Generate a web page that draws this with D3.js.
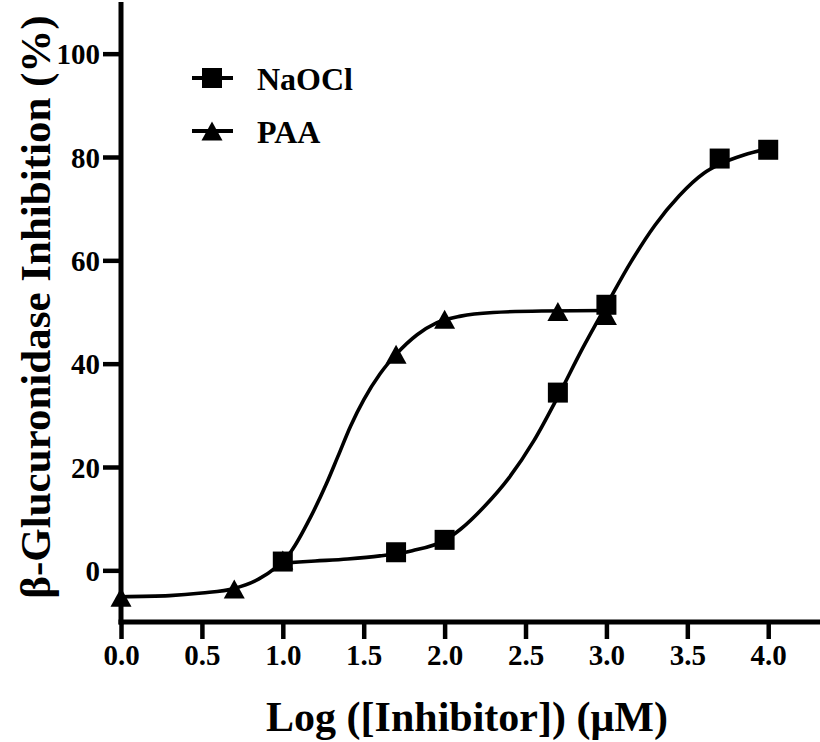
<!DOCTYPE html>
<html>
<head>
<meta charset="utf-8">
<script src="https://cdn.jsdelivr.net/npm/d3@7"></script>
<style>
  html, body { margin: 0; padding: 0; background: #fff; }
  svg { display: block; }
  text { font-family: "Liberation Serif", "Times New Roman", serif; font-weight: bold; fill: #000; }
</style>
</head>
<body>
<svg id="chart" width="820" height="742"></svg>
<script>
// ---- data ----
const xTicks = [0, 0.5, 1.0, 1.5, 2.0, 2.5, 3.0, 3.5, 4.0];
const xTickLabels = ["0.0", "0.5", "1.0", "1.5", "2.0", "2.5", "3.0", "3.5", "4.0"];
const yTicks = [0, 20, 40, 60, 80, 100];
const yTickLabels = ["0", "20", "40", "60", "80", "100"];

const seriesNames = ["NaOCl", "PAA"];

const naoclX = [1.0, 1.7, 2.0, 2.7, 3.0, 3.7, 4.0];
const naoclY = [1.7, 3.5, 5.9, 34.4, 51.4, 79.7, 81.4];

const paaX = [0.0, 0.7, 1.0, 1.7, 2.0, 2.7, 3.0];
const paaY = [-5.2, -3.6, 2.0, 41.8, 48.6, 50.1, 49.3];

// fitted curves
const naoclFitX = [1.0, 1.2, 1.4, 1.6, 1.8, 2.0, 2.1, 2.25, 2.4, 2.55, 2.7, 2.85, 3.0, 3.15, 3.3, 3.45, 3.6, 3.7, 3.85, 4.0];
const naoclFitY = [1.4, 1.8, 2.2, 2.8, 3.8, 5.8, 8.0, 12.5, 18.0, 25.0, 33.6, 42.8, 51.3, 59.6, 66.8, 72.5, 76.8, 78.6, 80.4, 81.6];

const paaFitX = [0.0, 0.3, 0.5, 0.7, 0.85, 0.95, 1.05, 1.17, 1.27, 1.34, 1.42, 1.5, 1.6, 1.7, 1.83, 1.95, 2.1, 2.3, 2.6, 3.0];
const paaFitY = [-5.1, -4.9, -4.4, -3.5, -1.7, 0.4, 3.6, 10.2, 16.8, 22.0, 28.0, 33.0, 38.0, 41.8, 45.6, 47.9, 49.2, 49.9, 50.2, 50.3];

// ---- drawing ----
const svg = d3.select("#chart");
const x = d3.scaleLinear().domain([0, 4.32]).range([121, 820]);
const y = d3.scaleLinear().domain([-10, 110]).range([622, 2]);

const ink = "#000";

// curves
const line = d3.line().x(d => x(d[0])).y(d => y(d[1])).curve(d3.curveMonotoneX);
const naoclFit = naoclFitX.map((v, i) => [v, naoclFitY[i]]);
const paaFit = paaFitX.map((v, i) => [v, paaFitY[i]]);

svg.append("path").attr("d", line(paaFit)).attr("fill", "none").attr("stroke", ink).attr("stroke-width", 3.6);
svg.append("path").attr("d", line(naoclFit)).attr("fill", "none").attr("stroke", ink).attr("stroke-width", 3.6);

// markers
const sq = 20;
function triPath(cx, cy) {
  const w = 21, h = 19;
  return `M${cx},${cy - h / 2}L${cx + w / 2},${cy + h / 2}L${cx - w / 2},${cy + h / 2}Z`;
}
svg.append("g").selectAll("path")
  .data(paaX.map((v, i) => [v, paaY[i]]))
  .join("path")
  .attr("d", d => triPath(x(d[0]), y(d[1])))
  .attr("fill", ink);

svg.append("g").selectAll("rect")
  .data(naoclX.map((v, i) => [v, naoclY[i]]))
  .join("rect")
  .attr("x", d => x(d[0]) - sq / 2)
  .attr("y", d => y(d[1]) - sq / 2)
  .attr("width", sq).attr("height", sq)
  .attr("fill", ink);

// axes
const xAxis = d3.axisBottom(x).tickValues(xTicks).tickFormat((d, i) => xTickLabels[i]).tickSize(17).tickSizeOuter(0);
const gx = svg.append("g").attr("transform", "translate(0,622)").call(xAxis);
gx.select(".domain").remove();
gx.selectAll(".tick line").attr("stroke", ink).attr("stroke-width", 4.5);
gx.selectAll(".tick text").attr("font-size", 29).attr("y", 43).attr("dy", 0)
  .style("font-family", '"Liberation Serif", "Times New Roman", serif').style("font-weight", "bold");

const yAxis = d3.axisLeft(y).tickValues(yTicks).tickFormat((d, i) => yTickLabels[i]).tickSize(18).tickSizeOuter(0);
const gy = svg.append("g").attr("transform", "translate(121,0)").call(yAxis);
gy.select(".domain").remove();
gy.selectAll(".tick line").attr("stroke", ink).attr("stroke-width", 4.5);
gy.selectAll(".tick text").attr("font-size", 29).attr("x", -21).attr("dy", "0.35em")
  .style("font-family", '"Liberation Serif", "Times New Roman", serif').style("font-weight", "bold");

// axis lines
svg.append("line").attr("x1", 121).attr("x2", 121).attr("y1", y(110)).attr("y2", 624.5)
  .attr("stroke", ink).attr("stroke-width", 5);
svg.append("line").attr("x1", 118.5).attr("x2", x(4.32)).attr("y1", 622).attr("y2", 622)
  .attr("stroke", ink).attr("stroke-width", 5);

// axis titles
svg.append("text").attr("x", 467).attr("y", 731).attr("text-anchor", "middle")
  .attr("font-size", 42).text("Log ([Inhibitor]) (μM)");
svg.append("text").attr("transform", "translate(50,307) rotate(-90)").attr("text-anchor", "middle")
  .attr("font-size", 43).text("β-Glucuronidase Inhibition (%)");

// legend
const legend = svg.append("g");
const legRows = [{ name: seriesNames[0], cy: 78, shape: "square" }, { name: seriesNames[1], cy: 131, shape: "tri" }];
legRows.forEach(r => {
  legend.append("line").attr("x1", 192).attr("x2", 233).attr("y1", r.cy).attr("y2", r.cy)
    .attr("stroke", ink).attr("stroke-width", 4);
  if (r.shape === "square") {
    legend.append("rect").attr("x", 212 - sq / 2).attr("y", r.cy - sq / 2).attr("width", sq).attr("height", sq).attr("fill", ink);
  } else {
    legend.append("path").attr("d", triPath(212, r.cy)).attr("fill", ink);
  }
  legend.append("text").attr("x", 257).attr("y", r.cy + 12).attr("font-size", 32).text(r.name);
});
</script>
</body>
</html>
